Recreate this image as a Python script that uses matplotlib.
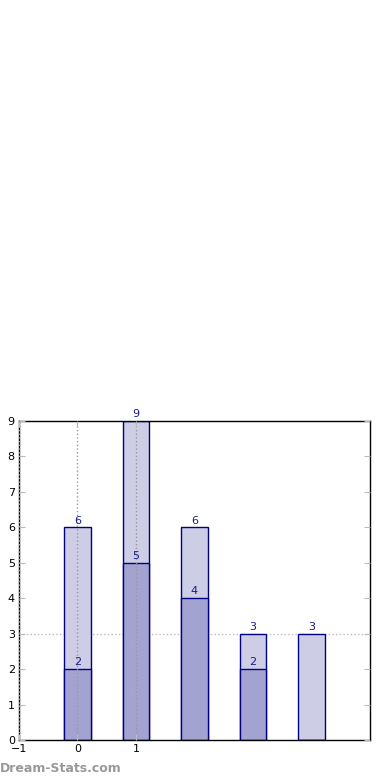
import matplotlib
matplotlib.use("Agg")
import matplotlib.pyplot as plt

positions = [0, 1, 2, 3, 4]
totals = [6, 9, 6, 3, 3]
lower = [2, 5, 4, 2, 0]
x_ticks = [-1, 0, 1]
y_ticks = [0, 1, 2, 3, 4, 5, 6, 7, 8, 9]
mean_line = 3

fig = plt.figure(figsize=(3.9, 7.8), dpi=100)
ax = fig.add_axes([0.0487, 0.0513, 0.9, 0.409])

edge = "#000080"
ax.bar(positions, totals, width=0.45, color="#cdcde6", edgecolor=edge, linewidth=1, zorder=2)
ax.bar(positions, lower, width=0.45, color="#a3a3d1", edgecolor=edge, linewidth=1, zorder=2)

for x, t, l in zip(positions, totals, lower):
    ax.text(x, t + 0.05, str(t), ha="center", va="bottom", fontsize=8, color="#1a1a8c", zorder=4)
    if l > 0:
        ax.text(x, l + 0.05, str(l), ha="center", va="bottom", fontsize=8, color="#1a1a8c", zorder=4)

ax.set_xlim(-1, 5)
ax.set_ylim(0, 9)
ax.set_xticks(x_ticks)
ax.set_yticks(y_ticks)
ax.set_axisbelow(False)
ax.xaxis.grid(True, linestyle=":", color="#999999", linewidth=1)
ax.axhline(mean_line, linestyle=":", color="#bbbbbb", linewidth=1, zorder=1)

ax.tick_params(direction="in", top=True, right=True, length=4, labelsize=8, color="#bbbbbb", pad=3)
for s in ax.spines.values():
    s.set_linewidth(1)
    s.set_color("black")

fig.text(0.0, 0.006, "Dream-Stats.com", fontsize=9, color="#999999", fontweight="bold", ha="left", va="bottom")

fig.savefig("out.png", dpi=100)
